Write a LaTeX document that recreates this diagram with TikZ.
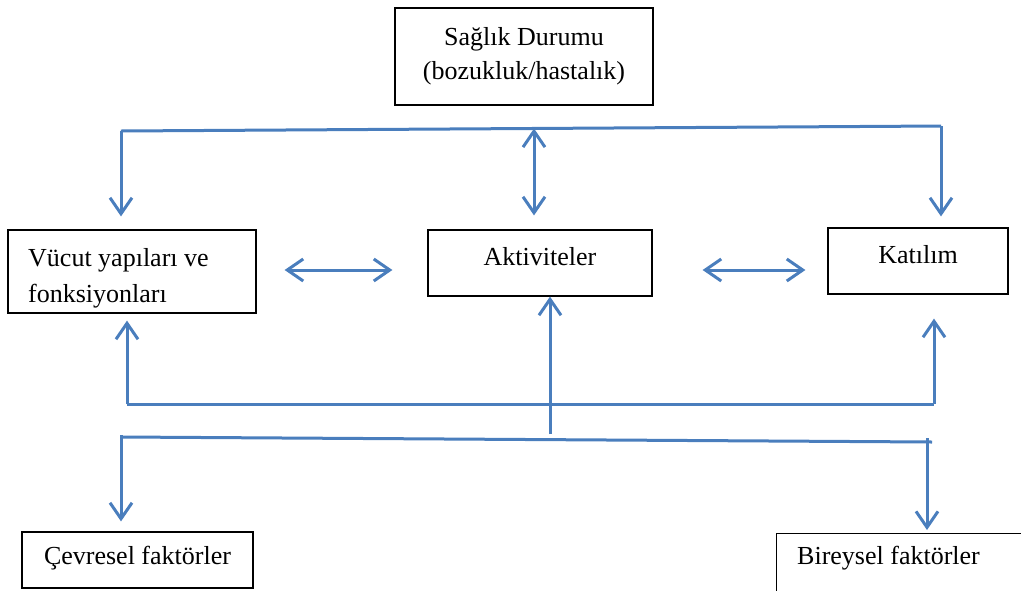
\documentclass[tikz,border=0pt]{standalone}
\usepackage{fontspec}
\setmainfont{Liberation Serif}
\usetikzlibrary{arrows.meta,calc}
\definecolor{wblue}{HTML}{4A7EBD}
\tikzset{
  box/.style={draw=black, line width=1.2pt, rectangle, inner sep=0pt},
  lbl/.style={font=\fontsize{26}{36}\selectfont, inner sep=0pt},
  conn/.style={draw=wblue, line width=3pt},
  sarr/.style={conn, -{Straight Barb[length=16pt,width=22pt,line width=3pt]}},
  darr/.style={conn, {Straight Barb[length=16pt,width=22pt,line width=3pt]}-{Straight Barb[length=16pt,width=22pt,line width=3pt]}},
}
\begin{document}
\begin{tikzpicture}[x=1pt,y=-1pt]
\useasboundingbox (0,0) rectangle (1021,590);
\clip (0,0) rectangle (1021,590);
% boxes
\node[box, minimum width=258, minimum height=97] (sag) at (524,56.5) {};
\node[lbl, align=center, font=\fontsize{26}{34}\selectfont] (sagtext) at (524,56.5) {Sağlık Durumu\\(bozukluk/hastalık)};
\node[box, minimum width=248, minimum height=83] (vuc) at (132,271.5) {};
\node[lbl, align=left, anchor=west] (vuctext) at (28,278) {Vücut yapıları ve\\fonksiyonları};
\node[box, minimum width=224, minimum height=66] (akt) at (540,263) {};
\node[lbl] (akttext) at (540,257) {Aktiviteler};
\node[box, minimum width=180, minimum height=66] (kat) at (918,261) {};
\node[lbl] (kattext) at (918,255) {Katılım};
\node[box, minimum width=231, minimum height=56] (cev) at (137.5,560) {};
\node[lbl] (cevtext) at (137.5,558) {Çevresel faktörler};
\node[box, anchor=north west, minimum width=300, minimum height=90] (bir) at (776,533) {};
\node[lbl, anchor=west] (birtext) at (797,558) {Bireysel faktörler};
% top distribution line
\coordinate (tl) at (121,131);
\coordinate (tr) at (941,126);
\coordinate (tm) at (534,128.5);
\draw[conn] (tl) -- (tr);
\draw[sarr] (tl) -- ([yshift=13pt]vuc.north -| tl);
\draw[sarr] (tr) -- ([yshift=11pt]kat.north -| tr);
\draw[darr] (tm) -- ([yshift=14pt]akt.north -| tm);
% horizontal double arrows
\draw[darr, shorten <=28pt, shorten >=35pt] (vuc.east |- 0,270) -- (akt.west |- 0,270);
\draw[darr, shorten <=50pt, shorten >=22pt] (akt.east |- 0,270) -- (kat.west |- 0,270);
% lower up-arrows
\coordinate (ul) at (127,404);
\coordinate (ur) at (934,404);
\draw[conn] (ul) -- (ur);
\draw[sarr] (ul) -- ([yshift=-7pt]vuc.south -| ul);
\draw[sarr] (ur) -- ([yshift=-24pt]kat.south -| ur);
\coordinate (um) at (550,434);
\draw[sarr] (um) -- (akt.south -| um);
% bottom distribution line
\coordinate (bl) at (121,437);
\coordinate (br) at (932,442);
\coordinate (bl0) at (121,435);
\coordinate (br0) at (927,438);
\draw[conn] (bl) -- (br);
\draw[sarr] (bl0) -- ([yshift=10pt]cev.north -| bl0);
\draw[sarr] (br0) -- ([yshift=3pt]bir.north -| br0);
\end{tikzpicture}
\end{document}
